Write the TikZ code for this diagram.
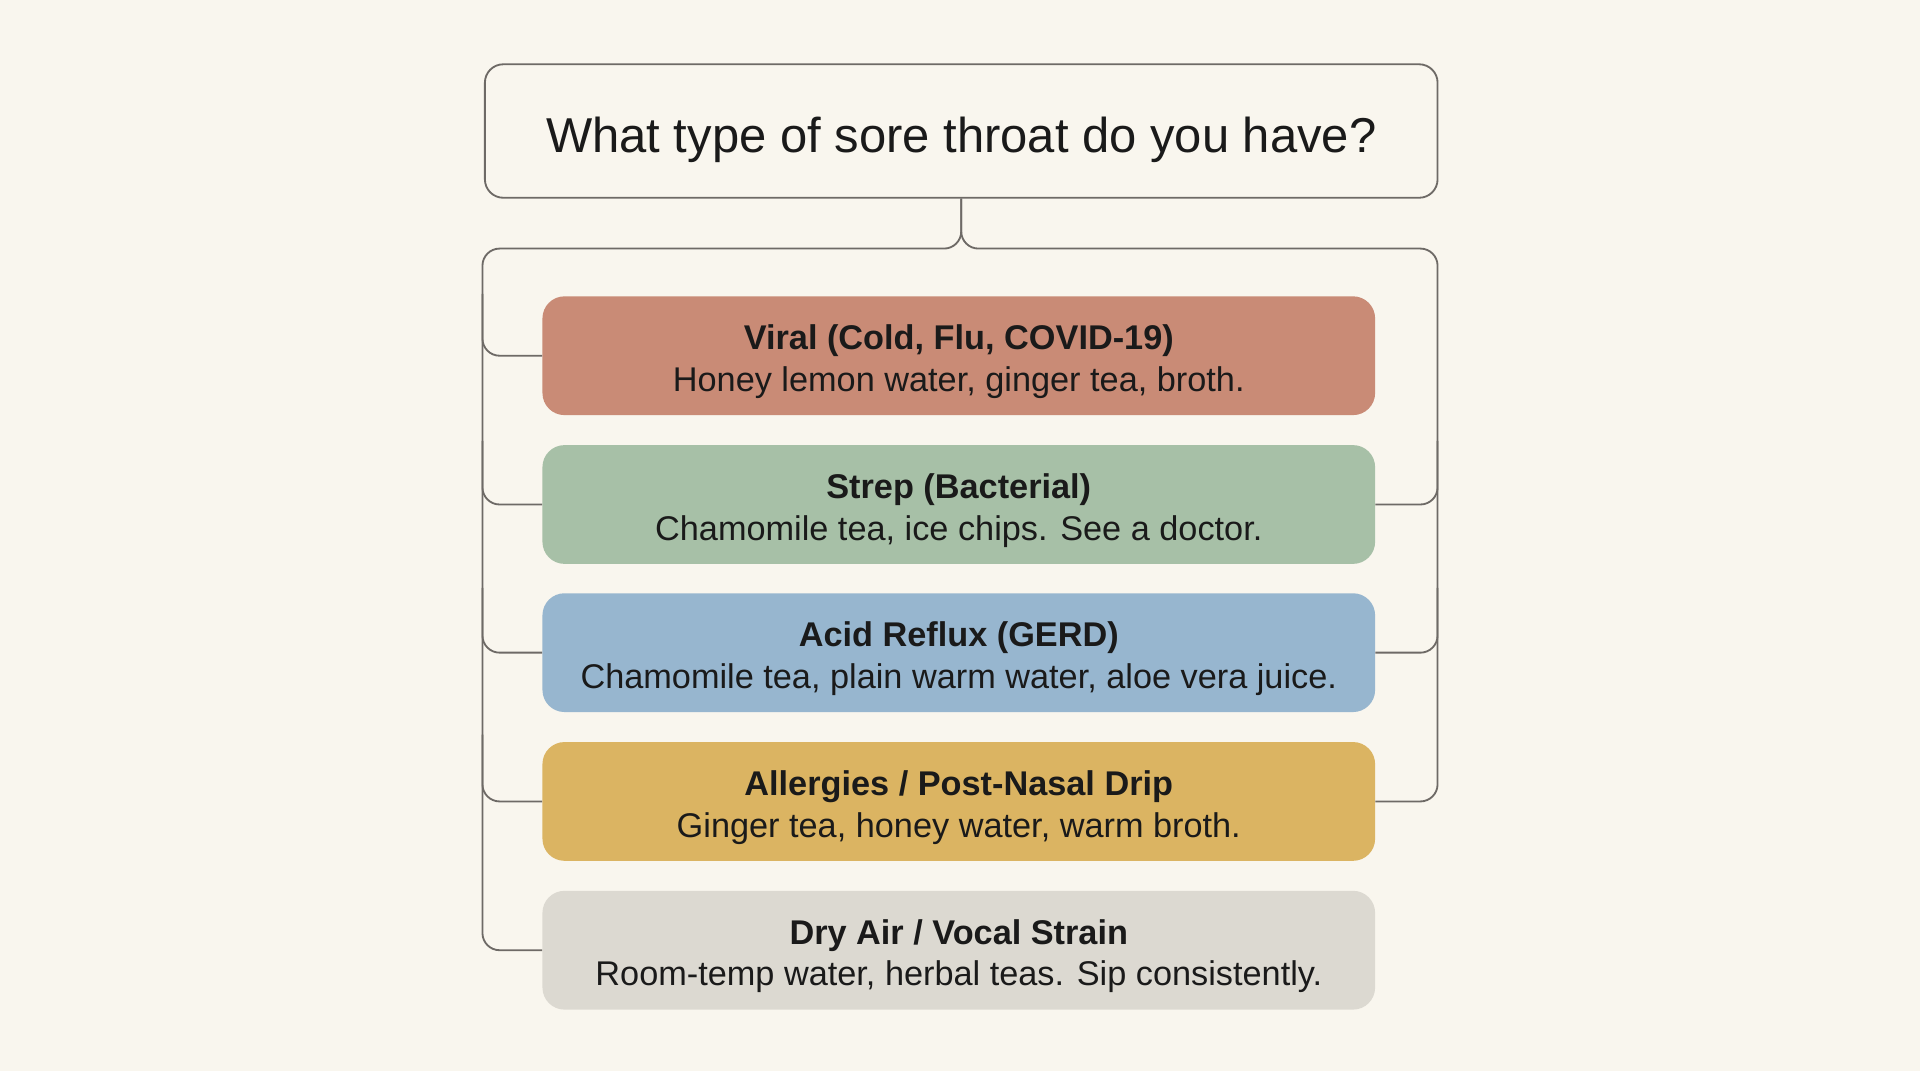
\documentclass[tikz,border=0pt]{standalone}
\usepackage{fontspec}
\setmainfont{Liberation Sans}
\definecolor{bgcream}{HTML}{F9F6EE}
\definecolor{linegray}{HTML}{6E6A66}
\definecolor{textblack}{HTML}{1A1A1A}
\definecolor{viralred}{HTML}{C98B76}
\definecolor{strepgreen}{HTML}{A7C0A7}
\definecolor{refluxblue}{HTML}{97B6CF}
\definecolor{allergyyellow}{HTML}{DBB462}
\definecolor{dryairgray}{HTML}{DCD9D1}
\newcommand{\remedytext}[2]{\rule{0pt}{30pt}\textbf{#1}\\#2}
\begin{document}
\begin{tikzpicture}[x=1pt,y=-1pt,
  remedy/.style={rounded corners=18pt,minimum width=680pt,minimum height=97pt,align=center,
    text=textblack,font=\fontsize{28}{34}\selectfont},
  link/.style={draw=linegray,line width=1.5pt,rounded corners=14pt}]

\fill[bgcream] (0,0) rectangle (1568,875);
\useasboundingbox (0,0) rectangle (1568,875);

\node[draw=linegray,line width=1.5pt,fill=bgcream,rounded corners=15pt,minimum width=778pt,
  minimum height=109pt,text=textblack,font=\fontsize{40}{48}\selectfont] (question) at (785,107)
  {\rule{0pt}{43pt}What type of sore throat do you have?};

\node[remedy,fill=viralred] (viral) at (783,290.5)
  {\remedytext{Viral (Cold, Flu, COVID-19)}{Honey lemon water, ginger tea, broth.}};
\node[remedy,fill=strepgreen] (strep) at (783,412)
  {\remedytext{Strep (Bacterial)}{Chamomile tea, ice chips. See a doctor.}};
\node[remedy,fill=refluxblue] (reflux) at (783,533)
  {\remedytext{Acid Reflux (GERD)}{Chamomile tea, plain warm water, aloe vera juice.}};
\node[remedy,fill=allergyyellow] (allergy) at (783,654.5)
  {\remedytext{Allergies / Post-Nasal Drip}{Ginger tea, honey water, warm broth.}};
\node[remedy,fill=dryairgray] (dryair) at (783,776)
  {\remedytext{Dry Air / Vocal Strain}{Room-temp water, herbal teas. Sip consistently.}};

\draw[link] (question.south) |- (394,203) |- (dryair.west);
\draw[link] (question.south) |- (1174,203) |- (allergy.east);

\draw[link] (394,240) |- (viral.west);
\draw[link] (394,360) |- (strep.west);
\draw[link] (394,480) |- (reflux.west);
\draw[link] (394,600) |- (allergy.west);

\draw[link] (1174,360) |- (strep.east);
\draw[link] (1174,480) |- (reflux.east);

\end{tikzpicture}
\end{document}
